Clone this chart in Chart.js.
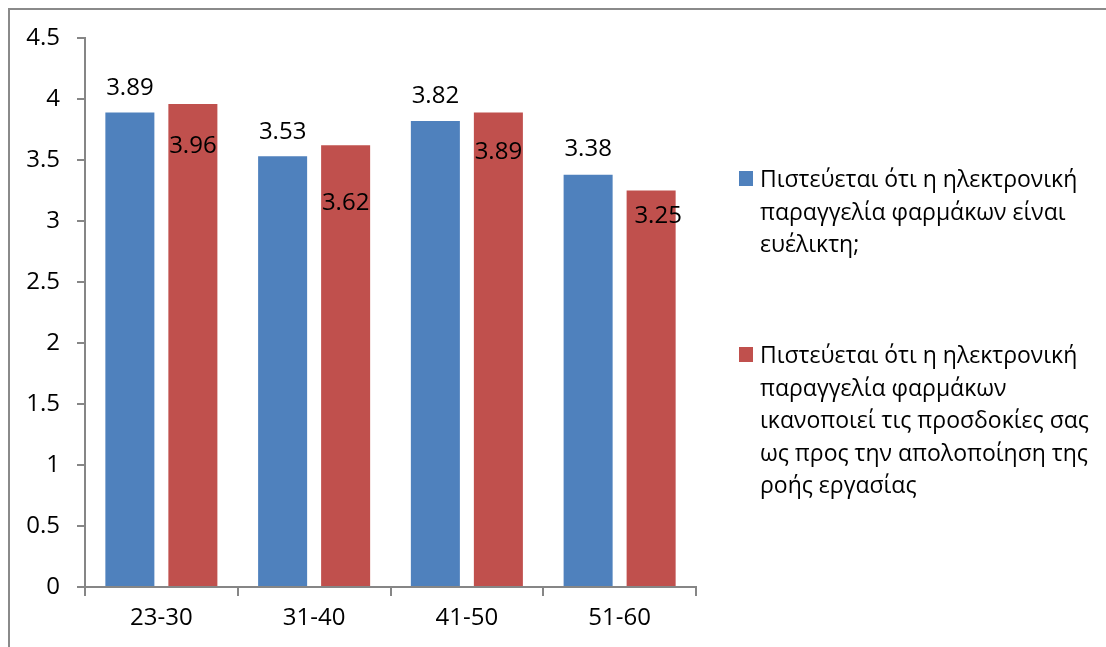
<!DOCTYPE html>
<html>
<head>
<meta charset="utf-8">
<script src="https://cdn.jsdelivr.net/npm/chart.js@4.4.1/dist/chart.umd.min.js"></script>
<style>
  html, body { margin: 0; padding: 0; background: #fff; }
  #wrap { position: relative; width: 1106px; height: 647px; }
</style>
</head>
<body>
<div id="wrap"><canvas id="chart" width="1106" height="647"></canvas></div>
<script>
// Age groups and mean scores of the two survey questions
const categories = ['23-30', '31-40', '41-50', '51-60'];
const flexibleScores = [3.89, 3.53, 3.82, 3.38];
const workflowScores = [3.96, 3.62, 3.89, 3.25];

// Legend wording, one entry per wrapped line
const flexibleLines = [
  'Πιστεύεται ότι η ηλεκτρονική',
  'παραγγελία φαρμάκων είναι',
  'ευέλικτη;'
];
const workflowLines = [
  'Πιστεύεται ότι η ηλεκτρονική',
  'παραγγελία φαρμάκων',
  'ικανοποιεί τις προσδοκίες σας',
  'ως προς την απολοποίηση της',
  'ροής εργασίας'
];

const BLUE = '#4F81BD';
const RED = '#C0504D';
const AXIS = '#868686';
const FONT_FAMILY = '"Open Sans", "DejaVu Sans", sans-serif';
const FONT_SIZE = 24;
const LEGEND_SIZE = 23;

// Where each value label sits relative to the top of its bar (pixels)
const labelShift = [
  [{dx: 0, dy: -26}, {dx: 0, dy: -26}, {dx: 0, dy: -27}, {dx: 0, dy: -27}],
  [{dx: 0, dy: 41}, {dx: 0, dy: 56}, {dx: 0, dy: 38}, {dx: 7, dy: 24}]
];

// Thin frame along the top and left of the figure
const frame = {
  id: 'frame',
  beforeDraw(chart) {
    const ctx = chart.ctx;
    ctx.save();
    ctx.strokeStyle = '#8a8a8a';
    ctx.lineWidth = 2;
    ctx.beginPath();
    ctx.moveTo(9, chart.height);
    ctx.lineTo(9, 9);
    ctx.lineTo(chart.width, 9);
    ctx.stroke();
    ctx.restore();
  }
};

// Value labels above / inside the bars
const valueLabels = {
  id: 'valueLabels',
  afterDatasetsDraw(chart) {
    const ctx = chart.ctx;
    ctx.save();
    ctx.font = FONT_SIZE + 'px ' + FONT_FAMILY;
    ctx.fillStyle = '#000';
    ctx.textAlign = 'center';
    ctx.textBaseline = 'alphabetic';
    const capHalf = FONT_SIZE * 0.714 / 2;
    chart.data.datasets.forEach((ds, di) => {
      chart.getDatasetMeta(di).data.forEach((bar, i) => {
        const s = labelShift[di][i];
        ctx.fillText(ds.data[i].toFixed(2), bar.x + s.dx, bar.y + s.dy + capHalf);
      });
    });
    ctx.restore();
  }
};

// Legend on the right with wrapped series names
const sideLegend = {
  id: 'sideLegend',
  afterDraw(chart) {
    const ctx = chart.ctx;
    ctx.save();
    ctx.font = LEGEND_SIZE + 'px ' + FONT_FAMILY;
    ctx.textAlign = 'left';
    ctx.textBaseline = 'alphabetic';
    const entries = [
      {color: BLUE, lines: flexibleLines, baseline: 187},
      {color: RED, lines: workflowLines, baseline: 363}
    ];
    entries.forEach(e => {
      ctx.fillStyle = e.color;
      ctx.fillRect(739, e.baseline - 16, 14, 15);
      ctx.fillStyle = '#000';
      e.lines.forEach((line, k) => ctx.fillText(line, 760, e.baseline + k * 32.5));
    });
    ctx.restore();
  }
};

new Chart(document.getElementById('chart'), {
  type: 'bar',
  data: {
    labels: categories,
    datasets: [
      {label: flexibleLines.join(' '), data: flexibleScores, backgroundColor: BLUE},
      {label: workflowLines.join(' '), data: workflowScores, backgroundColor: RED}
    ]
  },
  options: {
    responsive: false,
    animation: false,
    devicePixelRatio: 1,
    layout: {padding: {top: 38, right: 410, bottom: 0, left: 0}},
    datasets: {bar: {categoryPercentage: 0.825, barPercentage: 0.778}},
    plugins: {legend: {display: false}, tooltip: {enabled: false}},
    scales: {
      x: {
        grid: {display: true, drawOnChartArea: false, drawTicks: true, tickLength: 9, color: AXIS, tickColor: AXIS, lineWidth: 2, offset: true},
        border: {display: true, color: AXIS, width: 2},
        ticks: {color: '#000', font: {family: FONT_FAMILY, size: FONT_SIZE}, padding: 8},
        afterFit(scale) { scale.height = 60; }
      },
      y: {
        min: 0,
        max: 4.5,
        grid: {display: true, drawOnChartArea: false, drawTicks: true, tickLength: 8, color: AXIS, tickColor: AXIS, lineWidth: 2},
        border: {display: true, color: AXIS, width: 2},
        ticks: {
          stepSize: 0.5,
          color: '#000',
          font: {family: FONT_FAMILY, size: FONT_SIZE},
          padding: 17,
          callback: v => String(Math.round(v * 10) / 10)
        },
        afterFit(scale) { scale.width = 85; }
      }
    }
  },
  plugins: [frame, valueLabels, sideLegend]
});
</script>
</body>
</html>
